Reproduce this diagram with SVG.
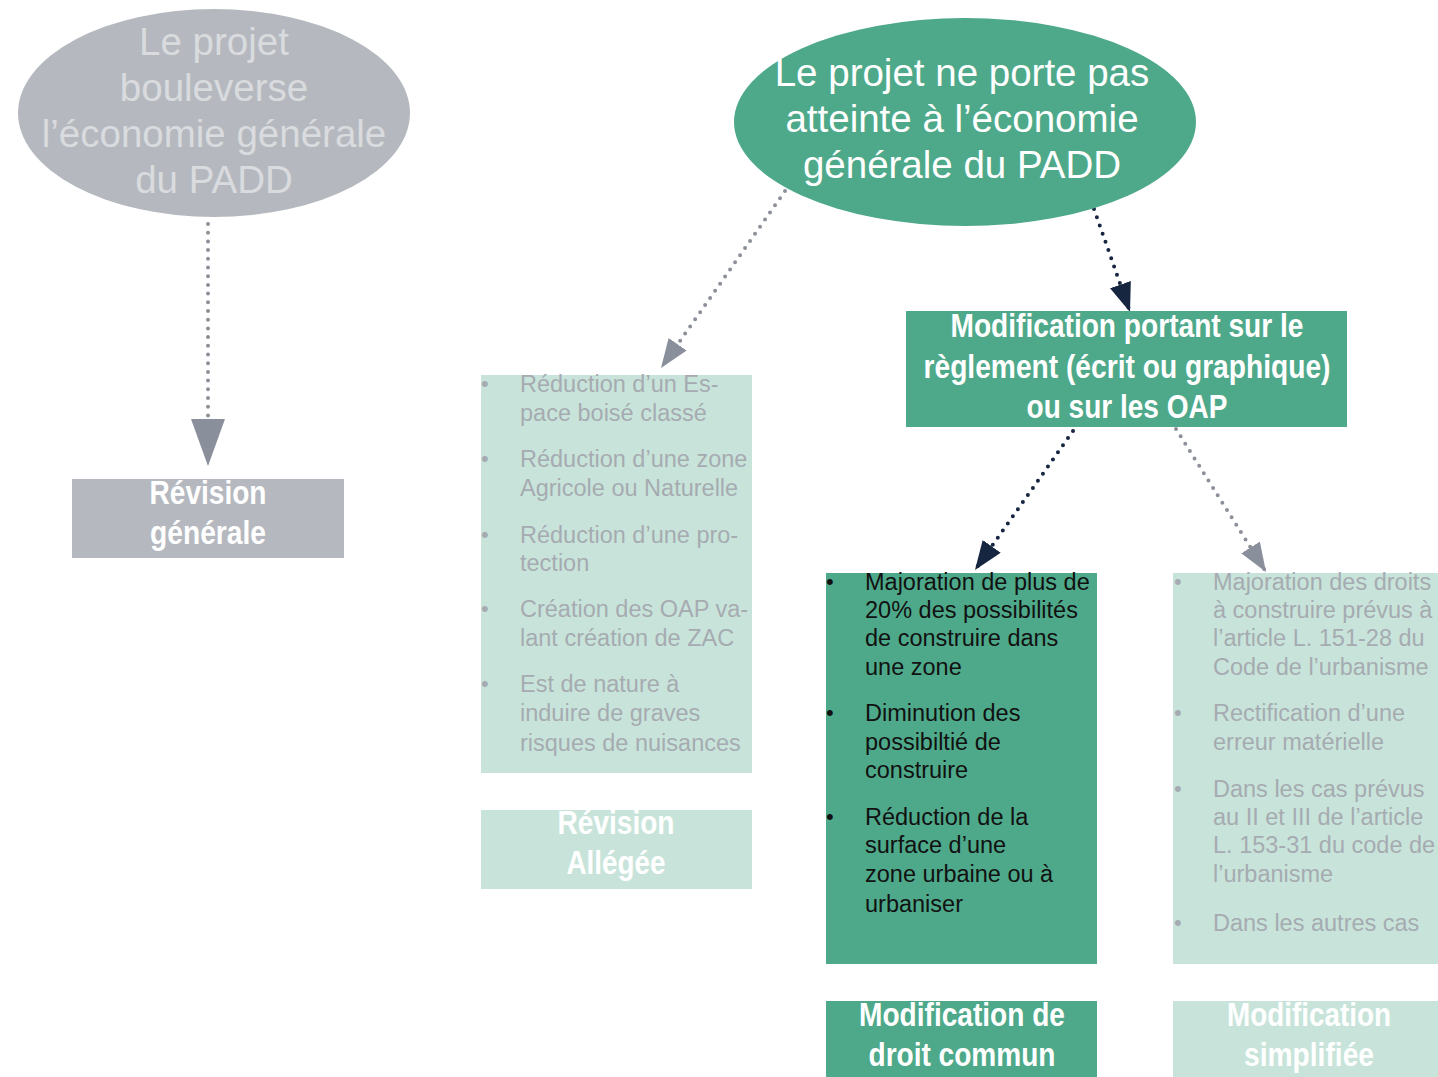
<svg xmlns="http://www.w3.org/2000/svg" width="1438" height="1077" viewBox="0 0 1438 1077">
<style>
.grey{fill:#B5B9BF}
.green{fill:#4EA98A}
.light{fill:#C8E4DA}
.ell{font-family:"Liberation Sans",Arial,sans-serif;font-size:38.5px;text-anchor:middle}
.bold{font-family:"Liberation Sans Narrow","Liberation Sans",Arial,sans-serif;font-weight:bold;font-size:34px;fill:#FFFFFF;text-anchor:middle}
.list{font-family:"Liberation Sans",Arial,sans-serif;font-size:23.5px}
.bul{font-size:22px}
.lg{fill:#A6ABB1}
.dk{fill:#111111}
.dot{fill:none;stroke-width:4;stroke-linecap:round;stroke-dasharray:0 8.7}
</style>
<defs>
<marker id="aGrey" markerUnits="userSpaceOnUse" markerWidth="30" markerHeight="22" refX="29" refY="11" orient="auto"><path d="M0,0 L29,11 L0,22 z" fill="#8A8F9C"/></marker>
<marker id="aDark" markerUnits="userSpaceOnUse" markerWidth="30" markerHeight="22" refX="29" refY="11" orient="auto"><path d="M0,0 L29,11 L0,22 z" fill="#162540"/></marker>
<marker id="aGreyBig" markerUnits="userSpaceOnUse" markerWidth="48" markerHeight="34" refX="47" refY="17" orient="auto"><path d="M0,0 L47,17 L0,34 z" fill="#8A8F9C"/></marker>
</defs>
<rect width="1438" height="1077" fill="#FFFFFF"/>

<g id="connectors">
<path class="dot" d="M208,224 L208,466" stroke="#8C9099" marker-end="url(#aGreyBig)"/>
<path class="dot" d="M785,191 L661,368" stroke="#8C9099" marker-end="url(#aGrey)"/>
<path class="dot" d="M1094,209 L1130,312" stroke="#162540" marker-end="url(#aDark)"/>
<path class="dot" d="M1073,431 L975,570" stroke="#162540" marker-end="url(#aDark)"/>
<path class="dot" d="M1176,429 L1266,572" stroke="#8C9099" marker-end="url(#aGrey)"/>
</g>

<g id="node-bouleverse">
<ellipse class="grey" cx="214" cy="113" rx="196" ry="104"/>
<text class="ell" fill="#D9DBDE"><tspan x="214" y="55">Le projet</tspan><tspan x="214" y="101">bouleverse</tspan><tspan x="214" y="147">l’économie générale</tspan><tspan x="214" y="193">du PADD</tspan></text>
</g>

<g id="node-ne-porte-pas">
<ellipse class="green" cx="965" cy="122" rx="231" ry="104"/>
<text class="ell" fill="#FFFFFF"><tspan x="962" y="86">Le projet ne porte pas</tspan><tspan x="962" y="132">atteinte à l’économie</tspan><tspan x="962" y="178">générale du PADD</tspan></text>
</g>

<g id="node-modification-reglement">
<rect class="green" x="906" y="311" width="441" height="116"/>
<text class="bold" x="1127" y="337" textLength="353" lengthAdjust="spacingAndGlyphs">Modification portant sur le</text>
<text class="bold" x="1127" y="378" textLength="407" lengthAdjust="spacingAndGlyphs">règlement (écrit ou graphique)</text>
<text class="bold" x="1127" y="418" textLength="201" lengthAdjust="spacingAndGlyphs">ou sur les OAP</text>
</g>

<g id="node-revision-generale">
<rect class="grey" x="72" y="479" width="272" height="79"/>
<text class="bold" x="208" y="504" textLength="117" lengthAdjust="spacingAndGlyphs">Révision</text>
<text class="bold" x="208" y="544" textLength="116" lengthAdjust="spacingAndGlyphs">générale</text>
</g>

<g id="node-liste-revision-allegee">
<rect class="light" x="481" y="375" width="271" height="398"/>
<g class="list lg">
<text class="bul" x="481" y="391">•</text>
<text x="520" y="392">Réduction d’un Es-</text>
<text x="520" y="421">pace boisé classé</text>
<text class="bul" x="481" y="466">•</text>
<text x="520" y="467">Réduction d’une zone</text>
<text x="520" y="496">Agricole ou Naturelle</text>
<text class="bul" x="481" y="542">•</text>
<text x="520" y="543">Réduction d’une pro-</text>
<text x="520" y="571">tection</text>
<text class="bul" x="481" y="616">•</text>
<text x="520" y="617">Création des OAP va-</text>
<text x="520" y="646">lant création de ZAC</text>
<text class="bul" x="481" y="691">•</text>
<text x="520" y="692">Est de nature à</text>
<text x="520" y="721">induire de graves</text>
<text x="520" y="751">risques de nuisances</text>
</g>
</g>

<g id="node-revision-allegee">
<rect class="light" x="481" y="810" width="271" height="79"/>
<text class="bold" x="616" y="834" textLength="117" lengthAdjust="spacingAndGlyphs">Révision</text>
<text class="bold" x="616" y="874" textLength="99" lengthAdjust="spacingAndGlyphs">Allégée</text>
</g>

<g id="node-liste-droit-commun">
<rect class="green" x="826" y="573" width="271" height="391"/>
<g class="list dk">
<text class="bul" x="826" y="589">•</text>
<text x="865" y="590">Majoration de plus de</text>
<text x="865" y="618">20% des possibilités</text>
<text x="865" y="646">de construire dans</text>
<text x="865" y="675">une zone</text>
<text class="bul" x="826" y="720">•</text>
<text x="865" y="721">Diminution des</text>
<text x="865" y="750">possibiltié de</text>
<text x="865" y="778">construire</text>
<text class="bul" x="826" y="824">•</text>
<text x="865" y="825">Réduction de la</text>
<text x="865" y="853">surface d’une</text>
<text x="865" y="882">zone urbaine ou à</text>
<text x="865" y="912">urbaniser</text>
</g>
</g>

<g id="node-droit-commun">
<rect class="green" x="826" y="1001" width="271" height="76"/>
<text class="bold" x="962" y="1026" textLength="206" lengthAdjust="spacingAndGlyphs">Modification de</text>
<text class="bold" x="962" y="1066" textLength="187" lengthAdjust="spacingAndGlyphs">droit commun</text>
</g>

<g id="node-liste-simplifiee">
<rect class="light" x="1173" y="573" width="265" height="391"/>
<g class="list lg">
<text class="bul" x="1174" y="589">•</text>
<text x="1213" y="590">Majoration des droits</text>
<text x="1213" y="618">à construire prévus à</text>
<text x="1213" y="646">l’article L. 151-28 du</text>
<text x="1213" y="675">Code de l’urbanisme</text>
<text class="bul" x="1174" y="720">•</text>
<text x="1213" y="721">Rectification d’une</text>
<text x="1213" y="750">erreur matérielle</text>
<text class="bul" x="1174" y="796">•</text>
<text x="1213" y="797">Dans les cas prévus</text>
<text x="1213" y="825">au II et III de l’article</text>
<text x="1213" y="853">L. 153-31 du code de</text>
<text x="1213" y="882">l’urbanisme</text>
<text class="bul" x="1174" y="930">•</text>
<text x="1213" y="931">Dans les autres cas</text>
</g>
</g>

<g id="node-simplifiee">
<rect class="light" x="1173" y="1001" width="265" height="76"/>
<text class="bold" x="1309" y="1026" textLength="164" lengthAdjust="spacingAndGlyphs">Modification</text>
<text class="bold" x="1309" y="1066" textLength="130" lengthAdjust="spacingAndGlyphs">simplifiée</text>
</g>
</svg>
